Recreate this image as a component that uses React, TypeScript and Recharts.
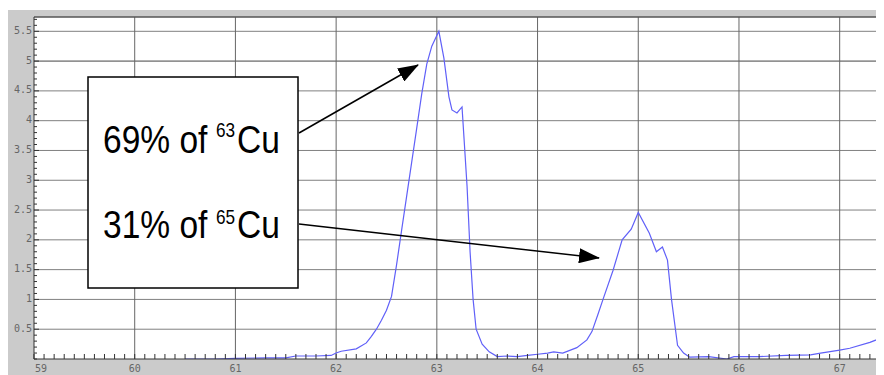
import { LineChart, Line, XAxis, YAxis, CartesianGrid, ReferenceLine } from 'recharts';

// mass (amu) and detector signal
const mass = [
  60.5, 60.8, 61.0, 61.3, 61.5, 61.6, 61.8, 61.95, 62.0, 62.05, 62.2, 62.3, 62.35, 62.4, 62.45,
  62.5, 62.55, 62.6, 62.65, 62.7, 62.75, 62.8, 62.85, 62.9, 62.95, 63.02, 63.07, 63.12, 63.15,
  63.2, 63.25, 63.27, 63.3, 63.33, 63.36, 63.39, 63.45, 63.52, 63.6, 63.7, 63.8, 63.9, 64.0,
  64.1, 64.16, 64.25, 64.39, 64.49, 64.54, 64.6, 64.65, 64.75, 64.84, 64.93, 65.0, 65.11, 65.18,
  65.24, 65.29, 65.33, 65.39, 65.45, 65.51, 65.7, 65.88, 65.95, 66.2, 66.47, 66.71, 66.81, 67.0,
  67.1, 67.3, 67.44,
];
const signal = [
  0.0, 0.0, 0.01, 0.02, 0.02, 0.05, 0.05, 0.06, 0.1, 0.13, 0.17, 0.27, 0.38, 0.5, 0.65,
  0.82, 1.05, 1.58, 2.16, 2.73, 3.3, 3.87, 4.45, 4.95, 5.25, 5.5, 5.05, 4.4, 4.18,
  4.13, 4.23, 3.7, 2.9, 1.8, 1.0, 0.5, 0.25, 0.12, 0.04, 0.05, 0.04, 0.06, 0.08,
  0.1, 0.12, 0.1, 0.19, 0.32, 0.46, 0.75, 1.0, 1.49, 2.0, 2.18, 2.46, 2.11, 1.8,
  1.88, 1.66, 1.0, 0.23, 0.1, 0.03, 0.04, 0.0, 0.04, 0.04, 0.06, 0.07, 0.1, 0.15,
  0.18, 0.28, 0.37,
];

const xMajor = [59, 60, 61, 62, 63, 64, 65, 66, 67];
const yMajor = [0.5, 1, 1.5, 2, 2.5, 3, 3.5, 4, 4.5, 5, 5.5];
const xDomain: [number, number] = [59, 67.44];
const yDomain: [number, number] = [0, 5.74];

const xMinor: number[] = [];
for (let i = 590; i <= 674; i++) xMinor.push(i / 10);
const yMinor: number[] = [];
for (let i = 0; i <= 57; i++) yMinor.push(i / 10);

const data = mass.map((m, i) => ({ x: m, y: signal[i] }));

const W = 876;
const H = 365;
const labelFont = '"DejaVu Sans Mono", monospace';
const boxFont = '"Liberation Sans", Arial, sans-serif';

const XTick = (props: any) => {
  const { x, y, payload, index } = props;
  const v = payload.value;
  const isMajor = xMajor.some((t) => Math.abs(t - v) < 1e-6);
  return (
    <g>
      <line x1={x} y1={y} x2={x} y2={y - 5} stroke="#333" strokeWidth={1} />
      {isMajor && (
        <text
          x={index === 0 ? x + 1 : x}
          y={y + 13}
          textAnchor={index === 0 ? 'start' : 'middle'}
          fontSize={10}
          fontFamily={labelFont}
          fill="#666"
        >
          {v}
        </text>
      )}
    </g>
  );
};

const YTick = (props: any) => {
  const { x, y, payload } = props;
  const v = payload.value;
  const isMajor = yMajor.some((t) => Math.abs(t - v) < 1e-6);
  return (
    <g>
      <line x1={x} y1={y} x2={x + (isMajor ? 5 : 3)} y2={y} stroke="#333" strokeWidth={1} />
      {isMajor && (
        <text
          x={x - 2}
          y={y - 1}
          textAnchor="end"
          dominantBaseline="central"
          fontSize={10}
          fontFamily={labelFont}
          fill="#666"
        >
          {v}
        </text>
      )}
    </g>
  );
};

// narrow text: scaled horizontally like the condensed face in the original
const Narrow = ({ x, y, size, children }: { x: number; y: number; size: number; children: any }) => (
  <g transform={`translate(${x},${y}) scale(0.86,1)`}>
    <text x={0} y={0} fontSize={size} fontFamily={boxFont} fill="#000">
      {children}
    </text>
  </g>
);

const Annotation = () => (
  <svg
    width={W}
    height={H}
    style={{ position: 'absolute', left: 0, top: 0, pointerEvents: 'none' }}
  >
    <defs>
      <marker
        id="head"
        markerUnits="userSpaceOnUse"
        markerWidth={21}
        markerHeight={15}
        refX={20}
        refY={7.5}
        orient="auto"
      >
        <path d="M0,0 L21,7.5 L0,15 z" fill="#000" />
      </marker>
    </defs>
    <rect x={80} y={67} width={210} height={211} fill="#fff" stroke="#000" strokeWidth={1.5} />
    <Narrow x={95} y={143} size={39}>69% of</Narrow>
    <Narrow x={208} y={127} size={20}>63</Narrow>
    <Narrow x={229} y={143} size={39}>Cu</Narrow>
    <Narrow x={95} y={228} size={39}>31% of</Narrow>
    <Narrow x={208} y={214} size={20}>65</Narrow>
    <Narrow x={229} y={228} size={39}>Cu</Narrow>
    <line x1={291} y1={123} x2={410} y2={55} stroke="#000" strokeWidth={1.5} markerEnd="url(#head)" />
    <line x1={291} y1={214} x2={591} y2={248} stroke="#000" strokeWidth={1.5} markerEnd="url(#head)" />
  </svg>
);

export default function App() {
  return (
    <div style={{ position: 'relative', width: W, height: H, marginTop: 2, background: '#cbcbcb' }}>
      <LineChart width={W} height={H} data={data} margin={{ top: 7, right: 0, bottom: 0, left: 0 }}>
        <CartesianGrid fill="#ffffff" fillOpacity={1} horizontal={false} vertical={false} />
        {yMajor.map((v) => (
          <ReferenceLine key={'h' + v} y={v} stroke={v === 5 ? '#444' : '#808080'} strokeWidth={1} />
        ))}
        {xMajor.slice(1).map((v) => (
          <ReferenceLine key={'v' + v} x={v} stroke="#666" strokeWidth={1} />
        ))}
        <ReferenceLine y={yDomain[1]} stroke="#555" strokeWidth={1.5} />
        <XAxis
          dataKey="x"
          type="number"
          domain={xDomain}
          allowDataOverflow
          ticks={xMinor}
          interval={0}
          height={16}
          tickSize={0}
          tickMargin={0}
          tickLine={false}
          axisLine={{ stroke: '#333' }}
          tick={<XTick />}
        />
        <YAxis
          type="number"
          domain={yDomain}
          allowDataOverflow
          ticks={yMinor}
          interval={0}
          width={26}
          tickSize={0}
          tickMargin={0}
          tickLine={false}
          axisLine={{ stroke: '#333' }}
          tick={<YTick />}
        />
        <Line
          type="linear"
          dataKey="y"
          stroke="#6060f8"
          strokeWidth={1.2}
          dot={false}
          isAnimationActive={false}
        />
      </LineChart>
      <Annotation />
    </div>
  );
}
